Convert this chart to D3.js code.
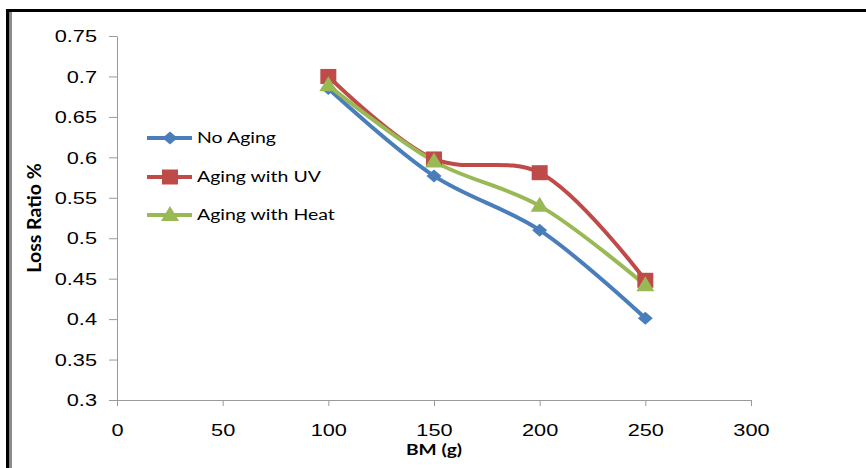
<!DOCTYPE html>
<html>
<head>
<meta charset="utf-8">
<script src="https://cdn.jsdelivr.net/npm/d3@7"></script>
<style>
  html, body { margin: 0; padding: 0; background: #fff; }
  svg { display: block; }
</style>
</head>
<body>
<svg id="chart" width="866" height="468"></svg>
<script>
// BM mass (g) on the x axis
const bmValues = [100, 150, 200, 250];
// Loss ratio for each aging condition
const noAging = [0.685, 0.577, 0.510, 0.401];
const agingUV = [0.700, 0.598, 0.581, 0.448];
const agingHeat = [0.689, 0.595, 0.540, 0.442];
const seriesNames = ["No Aging", "Aging with UV", "Aging with Heat"];
const xTicks = [0, 50, 100, 150, 200, 250, 300];
const yTicks = [0.3, 0.35, 0.4, 0.45, 0.5, 0.55, 0.6, 0.65, 0.7, 0.75];

// marker outlines, sized by width/height
function marker(kind, w, h) {
  const p = d3.path();
  if (kind === "diamond") {
    p.moveTo(0, -h / 2); p.lineTo(w / 2, 0); p.lineTo(0, h / 2); p.lineTo(-w / 2, 0);
  } else if (kind === "square") {
    p.rect(-w / 2, -h / 2, w, h);
  } else {
    p.moveTo(0, -h * 0.6); p.lineTo(w / 2, h * 0.4); p.lineTo(-w / 2, h * 0.4);
  }
  p.closePath();
  return p.toString();
}

const series = [
  { name: seriesNames[0], values: noAging, color: "#4A7EBB", shape: marker("diamond", 15, 13) },
  { name: seriesNames[1], values: agingUV, color: "#BE4B48", shape: marker("square", 16, 15) },
  { name: seriesNames[2], values: agingHeat, color: "#98B954", shape: marker("triangle", 18, 15) }
];

const svg = d3.select("#chart");

// frame lines along top and left
svg.append("rect").attr("x", 6).attr("y", 9).attr("width", 860).attr("height", 3).attr("fill", "#000");
svg.append("rect").attr("x", 6).attr("y", 9).attr("width", 3.5).attr("height", 459).attr("fill", "#000");
svg.append("rect").attr("x", 10).attr("y", 12).attr("width", 2).attr("height", 456).attr("fill", "#8c8c8c");

const x = d3.scaleLinear().domain([0, 300]).range([117, 751]);
const y = d3.scaleLinear().domain([0.3, 0.75]).range([400, 36]);

const axisColor = "#9a9a9a";
const tickFont = "'Liberation Sans', Arial, sans-serif";
const stretch = 1.36;

const gx = svg.append("g").attr("transform", `translate(0,${y(0.3)})`)
  .call(d3.axisBottom(x).tickValues(xTicks).tickSizeInner(6).tickSizeOuter(0).tickPadding(19).tickFormat(d3.format("d")));
const gy = svg.append("g").attr("transform", `translate(${x(0)},0)`)
  .call(d3.axisLeft(y).tickValues(yTicks).tickSizeInner(8).tickSizeOuter(0).tickPadding(12).tickFormat(d => String(+d.toFixed(2))));

[gx, gy].forEach(g => {
  g.select(".domain").attr("stroke", axisColor).attr("stroke-width", 1);
  g.selectAll(".tick line").attr("stroke", axisColor).attr("stroke-width", 1);
  g.selectAll(".tick text").attr("fill", "#000").style("font-family", tickFont).style("font-size", "16px");
});
// wide tick lettering
gx.selectAll(".tick text").attr("transform", `scale(${stretch},1)`);
gy.selectAll(".tick text").attr("x", 0).attr("dy", "0.36em")
  .attr("transform", `translate(-20,0) scale(${stretch},1)`);

// axis titles
const titleFont = "Lato, 'Open Sans', sans-serif";
svg.append("text").attr("x", 0).attr("y", 0).attr("text-anchor", "middle")
  .attr("transform", "translate(434,455) scale(1.2,1)")
  .style("font-family", titleFont).style("font-weight", "bold").style("font-size", "16px")
  .text("BM (g)");
svg.append("text").attr("x", 0).attr("y", 0).attr("text-anchor", "middle")
  .attr("transform", `translate(41,${(y(0.3) + y(0.75)) / 2}) rotate(-90) scale(1.22,1.15)`)
  .style("font-family", titleFont).style("font-weight", "bold").style("font-size", "16px")
  .text("Loss Ratio %");

const line = d3.line().x((d, i) => x(bmValues[i])).y(d => y(d)).curve(d3.curveCatmullRom.alpha(0.5));

const plot = svg.append("g");
series.forEach(s => {
  plot.append("path").attr("d", line(s.values)).attr("fill", "none")
    .attr("stroke", s.color).attr("stroke-width", 4).attr("stroke-linejoin", "round");
});
series.forEach(s => {
  plot.selectAll(null).data(s.values).enter().append("path")
    .attr("d", s.shape)
    .attr("transform", (d, i) => `translate(${x(bmValues[i])},${y(d)})`)
    .attr("fill", s.color);
});

// legend
const legend = svg.append("g");
const legendY = [138, 177, 215];
series.forEach((s, i) => {
  const g = legend.append("g").attr("transform", `translate(0,${legendY[i]})`);
  g.append("line").attr("x1", 147).attr("x2", 192).attr("y1", 0).attr("y2", 0)
    .attr("stroke", s.color).attr("stroke-width", 4);
  g.append("path").attr("d", s.shape).attr("transform", "translate(170,0)").attr("fill", s.color);
  g.append("text").attr("x", 0).attr("y", 0).attr("dy", "0.35em")
    .attr("transform", "translate(197,0) scale(1.3,1)")
    .style("font-family", titleFont).style("font-size", "15px").attr("fill", "#000")
    .text(s.name);
});
</script>
</body>
</html>
